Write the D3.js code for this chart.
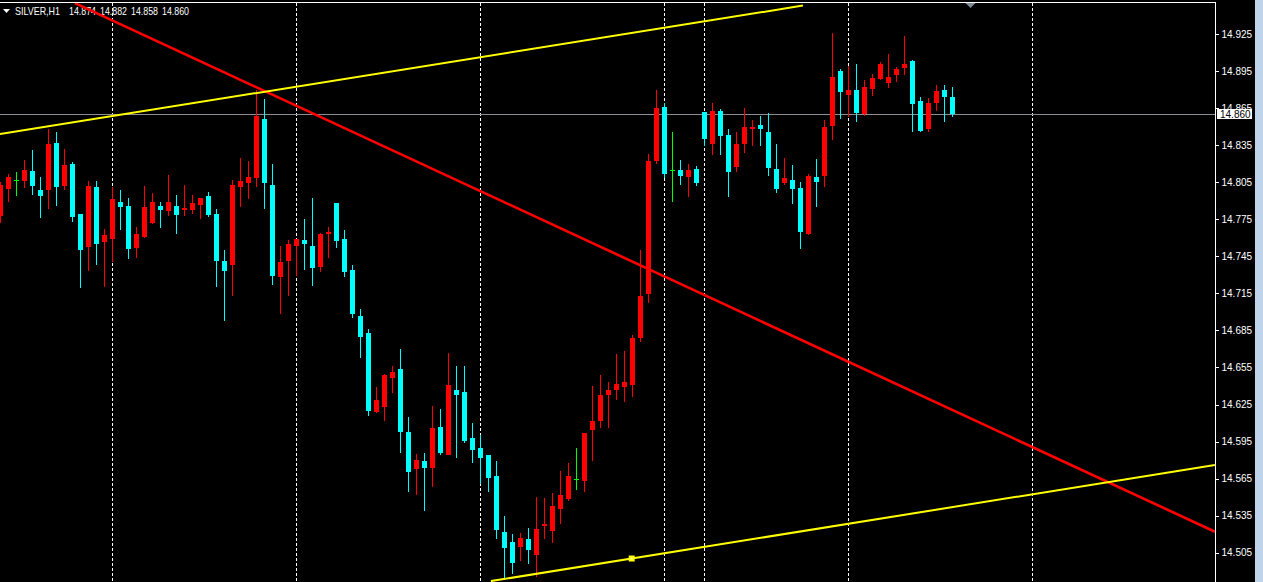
<!DOCTYPE html>
<html><head><meta charset="utf-8">
<script src="https://cdn.jsdelivr.net/npm/d3@7"></script>
<style>html,body{margin:0;padding:0;background:#000;overflow:hidden}</style>
</head><body>
<svg id="chart" width="1263" height="582"></svg>
<script>
const symbol = "SILVER,H1";
const opens = [14.778,14.799,14.807,14.806,14.814,14.799,14.799,14.837,14.802,14.820,
14.779,14.753,14.801,14.756,14.759,14.789,14.786,14.752,14.761,14.772,
14.786,14.782,14.786,14.782,14.782,14.786,14.794,14.779,14.741,14.738,
14.801,14.804,14.809,14.856,14.803,14.728,14.741,14.753,14.758,14.753,
14.736,14.763,14.788,14.759,14.734,14.697,14.683,14.619,14.623,14.646,
14.654,14.603,14.573,14.579,14.574,14.607,14.584,14.637,14.635,14.598,
14.590,14.584,14.567,14.522,14.514,14.510,14.516,14.503,14.526,14.523,
14.541,14.548,14.565,14.563,14.605,14.612,14.633,14.637,14.639,14.641,
14.679,14.714,14.822,14.866,14.815,14.815,14.809,14.816,14.862,14.836,
14.863,14.843,14.817,14.836,14.848,14.851,14.846,14.816,14.804,14.807,
14.800,14.763,14.809,14.810,14.850,14.895,14.876,14.880,14.860,14.880,
14.889,14.885,14.892,14.898,14.903,14.871,14.848,14.869,14.880,14.874];
const highs = [14.805,14.812,14.813,14.823,14.831,14.809,14.848,14.846,14.832,14.821,
14.779,14.806,14.806,14.767,14.801,14.799,14.792,14.769,14.802,14.796,
14.789,14.811,14.795,14.803,14.795,14.792,14.797,14.783,14.750,14.807,
14.825,14.822,14.880,14.872,14.820,14.753,14.758,14.759,14.775,14.792,
14.764,14.769,14.788,14.766,14.738,14.702,14.686,14.639,14.650,14.656,
14.670,14.615,14.585,14.586,14.624,14.621,14.667,14.656,14.656,14.610,
14.600,14.584,14.579,14.535,14.520,14.521,14.525,14.550,14.549,14.553,
14.571,14.578,14.590,14.602,14.640,14.649,14.643,14.666,14.668,14.681,
14.750,14.828,14.880,14.869,14.846,14.823,14.820,14.818,14.862,14.869,
14.864,14.848,14.846,14.865,14.855,14.859,14.861,14.836,14.825,14.819,
14.805,14.812,14.824,14.855,14.926,14.897,14.899,14.901,14.888,14.893,
14.902,14.909,14.898,14.923,14.904,14.874,14.873,14.884,14.884,14.882];
const lows = [14.772,14.789,14.794,14.800,14.795,14.776,14.783,14.786,14.799,14.773,
14.719,14.733,14.738,14.720,14.740,14.766,14.743,14.744,14.760,14.771,
14.768,14.778,14.763,14.778,14.779,14.775,14.777,14.720,14.693,14.713,
14.785,14.791,14.801,14.783,14.722,14.698,14.713,14.729,14.734,14.721,
14.732,14.744,14.752,14.728,14.695,14.663,14.616,14.618,14.612,14.634,
14.586,14.554,14.552,14.539,14.558,14.584,14.584,14.582,14.594,14.578,
14.561,14.554,14.516,14.483,14.488,14.498,14.496,14.485,14.516,14.513,
14.528,14.547,14.556,14.554,14.579,14.606,14.606,14.629,14.627,14.631,
14.676,14.707,14.820,14.808,14.789,14.803,14.793,14.802,14.834,14.827,
14.827,14.793,14.813,14.829,14.834,14.834,14.810,14.796,14.803,14.787,
14.751,14.762,14.785,14.801,14.839,14.856,14.858,14.854,14.859,14.875,
14.888,14.881,14.886,14.892,14.846,14.846,14.846,14.863,14.854,14.858];
const closes = [14.803,14.809,14.807,14.815,14.802,14.794,14.836,14.801,14.819,14.777,
14.750,14.802,14.755,14.762,14.791,14.785,14.751,14.763,14.785,14.789,
14.783,14.789,14.779,14.784,14.788,14.792,14.779,14.741,14.733,14.803,
14.806,14.809,14.859,14.804,14.729,14.740,14.755,14.759,14.755,14.735,
14.763,14.765,14.757,14.732,14.698,14.680,14.620,14.629,14.649,14.651,
14.603,14.571,14.580,14.573,14.606,14.586,14.641,14.633,14.595,14.588,
14.582,14.565,14.523,14.509,14.497,14.517,14.507,14.524,14.528,14.543,
14.552,14.567,14.565,14.602,14.612,14.633,14.637,14.642,14.643,14.679,
14.713,14.822,14.865,14.812,14.815,14.810,14.815,14.805,14.840,14.863,
14.843,14.813,14.836,14.850,14.850,14.848,14.817,14.800,14.808,14.800,
14.764,14.810,14.805,14.850,14.890,14.878,14.880,14.861,14.882,14.889,
14.901,14.890,14.897,14.901,14.868,14.847,14.869,14.879,14.874,14.860];
const priceTicks = [14.505,14.535,14.565,14.595,14.625,14.655,14.685,14.715,14.745,14.775,14.805,14.835,14.865,14.895,14.925];
const gridBars = [14, 37, 60, 83, 88, 106, 129];
const bidPrice = 14.860;
const redTrend = [[9.3, 14.950], [151.8, 14.522]];
const upperChannel = [[-0.06, 14.844], [100.3, 14.948]];
const lowerChannel = [[61.3, 14.482], [151.8, 14.576]];
const channelMarker = [78.9, 14.5003];

const W = 1263, H = 582, plotRight = 1215;
const svg = d3.select("#chart");
const x = d3.scaleLinear().domain([0, 119]).range([0.5, 952.5]);
const y = d3.scaleLinear().domain([14.505, 14.925]).range([552.7, 34]);
const FONT = "'Liberation Sans', Arial, sans-serif";

svg.append("rect").attr("width", W).attr("height", H).attr("fill", "#000");

// title
svg.append("path").attr("d", "M3,9 L10,9 L6.5,13 Z").attr("fill", "#fff");
const f3 = d3.format(".3f");
const last = opens.length - 1;
svg.append("text").attr("x", 15).attr("y", 14.5)
  .attr("fill", "#fff").attr("font-family", FONT).attr("font-size", 10.5)
  .attr("textLength", 45).attr("lengthAdjust", "spacingAndGlyphs").text(symbol);
[opens[last], highs[last], lows[last], closes[last]].forEach((v, k) => {
  svg.append("text").attr("x", 69 + k * 31).attr("y", 14.5)
    .attr("fill", "#fff").attr("font-family", FONT).attr("font-size", 10.5)
    .attr("textLength", 27).attr("lengthAdjust", "spacingAndGlyphs").text(f3(v));
});

svg.append("defs").append("clipPath").attr("id", "plot")
  .append("rect").attr("x", 0).attr("y", 3).attr("width", plotRight).attr("height", H - 3);

const plot = svg.append("g").attr("clip-path", "url(#plot)");

// grid
plot.selectAll("line.grid").data(gridBars).join("line").attr("class", "grid")
  .attr("x1", d => Math.round(x(d) - 0.5) + 0.5).attr("x2", d => Math.round(x(d) - 0.5) + 0.5)
  .attr("y1", 3).attr("y2", H)
  .attr("stroke", "#fff").attr("stroke-width", 1).attr("stroke-dasharray", "3,2");

// bid line
plot.append("line").attr("x1", 0).attr("x2", plotRight)
  .attr("y1", Math.round(y(bidPrice)) + 0.5).attr("y2", Math.round(y(bidPrice)) + 0.5)
  .attr("stroke", "#8c8c96").attr("stroke-width", 1);

// candles
const bars = d3.range(opens.length).map(i => ({i, o: opens[i], h: highs[i], l: lows[i], c: closes[i]}));
const col = d => d.c > d.o ? "#ff0000" : (d.c < d.o ? "#00ffff" : "#00ff00");
const cg = plot.append("g").attr("shape-rendering", "crispEdges");
const g = cg.selectAll("g").data(bars).join("g");
g.append("line")
  .attr("x1", d => Math.round(x(d.i) - 0.5) + 0.5).attr("x2", d => Math.round(x(d.i) - 0.5) + 0.5)
  .attr("y1", d => y(d.h)).attr("y2", d => y(d.l))
  .attr("stroke", col).attr("stroke-width", 1);
g.append("rect")
  .attr("x", d => Math.round(x(d.i) - 0.5) - 2).attr("width", 5)
  .attr("y", d => Math.round(y(Math.max(d.o, d.c))))
  .attr("height", d => Math.max(1, Math.round(Math.abs(y(d.o) - y(d.c)))))
  .attr("fill", col);

// trend lines
const lineGen = d3.line().x(d => x(d[0])).y(d => y(d[1]));
plot.append("path").attr("d", lineGen(redTrend)).attr("stroke", "#ff0000").attr("stroke-width", 2.6).attr("fill", "none");
plot.append("path").attr("d", lineGen(upperChannel)).attr("stroke", "#ffff00").attr("stroke-width", 2).attr("fill", "none");
plot.append("path").attr("d", lineGen(lowerChannel)).attr("stroke", "#ffff00").attr("stroke-width", 2).attr("fill", "none");
plot.append("rect").attr("x", x(channelMarker[0]) - 3).attr("y", y(channelMarker[1]) - 3)
  .attr("width", 6).attr("height", 6).attr("fill", "#ffff00");
plot.append("rect").attr("x", x(channelMarker[0]) - 1).attr("y", y(channelMarker[1]) - 1)
  .attr("width", 2).attr("height", 2).attr("fill", "#ffffc0");

// shift marker
svg.append("path").attr("d", "M965.5,3 L975.5,3 L970.5,8 Z").attr("fill", "#7d8b99");

// frame
svg.append("line").attr("x1", 0).attr("x2", plotRight + 0.5).attr("y1", 2.5).attr("y2", 2.5).attr("stroke", "#fff");
svg.append("line").attr("x1", plotRight + 0.5).attr("x2", plotRight + 0.5).attr("y1", 2).attr("y2", H).attr("stroke", "#fff");

// right axis (14.865 sits under the bid label box, as in the reference)
const axis = d3.axisRight(y).tickValues(priceTicks).tickFormat(f3).tickSize(3).tickPadding(3);
const ag = svg.append("g").attr("transform", `translate(${plotRight + 0.5},0)`).call(axis);
ag.select(".domain").remove();
ag.selectAll(".tick line").attr("stroke", "#fff").attr("shape-rendering", "crispEdges");
ag.selectAll(".tick text").attr("fill", "#fff").attr("font-family", FONT).attr("font-size", 10);

// bid label
const by = y(bidPrice);
svg.append("rect").attr("x", 1217).attr("y", Math.round(by) - 5).attr("width", 35).attr("height", 10)
  .attr("fill", "#fff");
svg.append("text").attr("x", 1220).attr("y", by).attr("dy", "0.35em")
  .attr("fill", "#000").attr("font-family", FONT).attr("font-size", 10).text(f3(bidPrice));

// right strip
svg.append("rect").attr("x", 1255).attr("y", 0).attr("width", 8).attr("height", H).attr("fill", "#bfd3ea");
</script>
</body></html>
